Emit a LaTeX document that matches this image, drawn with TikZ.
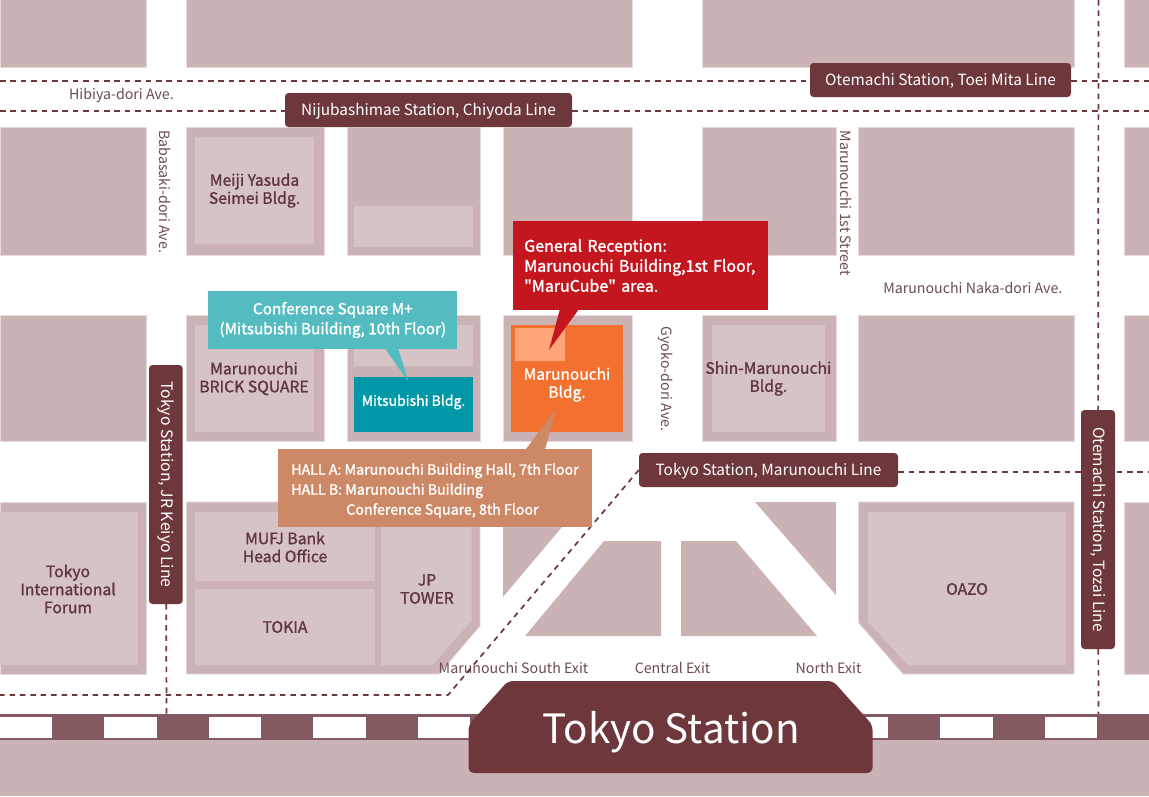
\documentclass[tikz,border=0pt]{standalone}
\usepackage{fontspec}
\setmainfont{Noto Sans CJK JP}
\newfontfamily\medfont[FakeBold=1.2]{Noto Sans CJK JP}
\newfontfamily\semifont[FakeBold=1.6]{Noto Sans CJK JP}
\usetikzlibrary{backgrounds}

\definecolor{blockcol}{HTML}{CBB2B4}
\definecolor{innercol}{HTML}{D5C3C6}
\definecolor{edgecol}{HTML}{E6DADB}
\definecolor{darkcol}{HTML}{6D373C}
\definecolor{railcol}{HTML}{84595F}
\definecolor{roadtext}{HTML}{6E4B50}
\definecolor{bldgtext}{HTML}{5F363C}
\definecolor{tealcol}{HTML}{0097A7}
\definecolor{confcol}{HTML}{54BBC1}
\definecolor{redcol}{HTML}{C4161F}
\definecolor{hallcol}{HTML}{CD8966}
\definecolor{orangecol}{HTML}{F27130}
\definecolor{peachcol}{HTML}{FFA578}

\tikzset{
    block/.style={fill=blockcol, draw=edgecol, line width=0.7pt},
    inner/.style={fill=innercol},
    subway/.style={draw=darkcol, line width=1.7pt, dash pattern=on 5.5pt off 4.9pt},
    road/.style={text=roadtext, inner sep=0pt, font=\fontsize{14.2}{17}\selectfont},
    bldg/.style={text=bldgtext, inner sep=0pt, align=center, font=\fontsize{15.7}{18}\medfont},
    bldgwhite/.style={text=white, inner sep=0pt, align=center, font=\fontsize{15.5}{18}\medfont},
    stationtag/.style={fill=darkcol, text=white, rounded corners=3.5pt, inner sep=0pt, font=\fontsize{15.4}{18}\selectfont},
    flattag/.style={stationtag, minimum height=34pt, text height=12.5pt, text depth=2.5pt},
    callout/.style={inner sep=0pt, text=white, font=\fontsize{15.3}{20}\semifont}
}

\begin{document}
\begin{tikzpicture}[x=1pt, y=-1pt]

    \useasboundingbox (0,0) rectangle (1149,796);

    % City blocks, row by row
    \foreach \xa/\xb in {0/146.7, 186.3/632, 702/1074, 1124/1149}
        \draw[block] (\xa,-2) rectangle (\xb,67);
    \foreach \xa/\xb in {0/146.7, 186.3/324, 347/480, 503/632, 702/836, 858.5/1074, 1124/1149} {
        \draw[block] (\xa,127) rectangle (\xb,255.5);
        \draw[block] (\xa,315.5) rectangle (\xb,441);
    }
    \draw[block] (0,502) rectangle (146.7,674);
    \draw[block] (1124,502) rectangle (1149,674);
    \draw[block] (186.3,502) -- (480,502) -- (480,626) -- (439,674) -- (186.3,674) -- cycle;
    \fill[blockcol] (503,502) -- (583,502) -- (503,597) -- cycle;
    \fill[blockcol] (604,541) -- (661,541) -- (661,636) -- (525,636) -- cycle;
    \fill[blockcol] (681,541) -- (736,541) -- (817,636) -- (681,636) -- cycle;
    \fill[blockcol] (755,502) -- (836,502) -- (836,595) -- cycle;
    \draw[block] (858.5,502) -- (1074,502) -- (1074,674) -- (903,674) -- (858.5,622.7) -- cycle;

    % Buildings
    \fill[inner] (195,137) rectangle (313.5,243.7);
    \fill[inner] (354,206) rectangle (473,246.7);
    \fill[inner] (195,325) rectangle (313.5,432);
    \fill[inner] (354,325) rectangle (473,365.7);
    \fill[inner] (712,325) rectangle (825,432);
    \fill[tealcol] (354,377) rectangle (473,432);
    \fill[orangecol] (511,325) rectangle (623.4,432);
    \fill[peachcol] (514.5,328) rectangle (565,360.7);
    \fill[inner] (0,512) rectangle (138,665);
    \fill[inner] (195,512) rectangle (375,581);
    \fill[inner] (195,589) rectangle (375,665);
    \fill[inner] (381,512) -- (471.6,512) -- (471.6,620.7) -- (432.7,665) -- (381,665) -- cycle;
    \fill[inner] (868,512) -- (1066,512) -- (1066,665) -- (907.6,665) -- (868,621.7) -- cycle;

    % Railway
    \fill[blockcol] (0,740) rectangle (1149,796);
    \fill[railcol] (0,714) rectangle (1149,740);
    \foreach \i in {0,...,10}
        \fill[white] ({104.5*\i-0.5},717) rectangle ({104.5*\i+52},738);

    % Building names
    \node[bldg] (meiji) at (254.5,190.5) {Meiji Yasuda\\Seimei Bldg.};
    \node[bldg] (brick) at (254,378.5) {Marunouchi\\BRICK SQUARE};
    \node[bldg] (shin) at (768.4,378.5) {Shin-Marunouchi\\Bldg.};
    \node[bldg] (forum) at (68,589) {Tokyo\\International\\Forum};
    \node[bldg] (mufj) at (285,547) {MUFJ Bank\\Head Office};
    \node[bldg] (tokia) at (285,627) {TOKIA};
    \node[bldg] (jptower) at (427,589) {JP\\TOWER};
    \node[bldg] (oazo) at (967,589) {OAZO};
    \node[bldgwhite, font=\fontsize{14}{18}\medfont] (mitsubishi) at (413.5,402) {Mitsubishi Bldg.};
    \node[bldgwhite] (marubldg) at (567,384.5) {Marunouchi\\Bldg.};

    % Road names
    \node[road] (hibiya) at (121.4,96) {Hibiya-dori Ave.};
    \node[road, rotate=-90] (babasaki) at (164.6,191.7) {Babasaki-dori Ave.};
    \node[road, rotate=-90] (first) at (846.4,203) {Marunouchi 1st Street};
    \node[road] (naka) at (972.8,287.7) {Marunouchi Naka-dori Ave.};
    \node[road, rotate=-90] (gyoko) at (665.5,379) {Gyoko-dori Ave.};
    \node[road] (southexit) at (513.5,668) {Marunouchi South Exit};
    \node[road] (centralexit) at (672.5,668) {Central Exit};
    \node[road] (northexit) at (828.5,668) {North Exit};

    % Callouts
    \fill[confcol] (382.5,345) -- (397,345) -- (408.5,381.7) -- cycle;
    \node[callout, fill=confcol, minimum width=249pt, minimum height=58pt, align=center] (conference) at (332.8,320) {Conference Square M+\\(Mitsubishi Building, 10th Floor)};
    \fill[redcol] (561,305) -- (582,305) -- (549,350) -- cycle;
    \node[callout, fill=redcol, minimum width=255pt, minimum height=89pt, text width=232.5pt, align=left, font=\fontsize{16}{20}\semifont] (reception) at (640.5,265.5) {General Reception:\\Marunouchi Building,1st Floor,\\"MaruCube" area.};
    \fill[hallcol] (523,453) -- (544,453) -- (556,409) -- cycle;
    \node[callout, fill=hallcol, minimum width=314pt, minimum height=77.7pt, align=left, font=\fontsize{14.2}{20}\semifont] (hall) at (435,487.8) {\rule{0pt}{17pt}HALL A: Marunouchi Building Hall, 7th Floor\\HALL B: Marunouchi Building\\\hspace*{55pt}Conference Square, 8th Floor};

    % Stations
    \node[flattag, minimum width=287pt] (nijubashi) at (428.5,110) {Nijubashimae Station, Chiyoda Line};
    \node[flattag, minimum width=261pt] (otemachi) at (940.5,80) {Otemachi Station, Toei Mita Line};
    \node[flattag, minimum width=259pt] (marunouchi) at (768.5,470) {Tokyo Station, Marunouchi Line};
    \node[stationtag, rotate=-90, minimum width=239pt, minimum height=33.6pt, font=\fontsize{15.8}{18}\selectfont] (keiyo) at (165.8,484.5) {Tokyo Station, JR Keiyo Line};
    \node[stationtag, rotate=-90, minimum width=239pt, minimum height=34pt, font=\fontsize{15.5}{18}\selectfont] (tozai) at (1098,529.5) {Otemachi Station, Tozai Line};
    \draw[fill=darkcol, draw=none, rounded corners=5pt] (468.6,773) -- (468.6,725) -- (508,681) -- (833,681) -- (872.5,725) -- (872.5,773) -- cycle;
    \node[text=white, inner sep=0pt, font=\fontsize{40.4}{44}\selectfont] (tokyo) at (671,732.5) {Tokyo Station};

    % Ends of the subway lines
    \coordinate (miteW) at (0,81);
    \coordinate (miteE) at (1149,81);
    \coordinate (chiyodaW) at (0,111);
    \coordinate (chiyodaE) at (1149,111);
    \coordinate (tozaiN) at (1098.5,0);
    \coordinate (tozaiS) at (1098.5,714);
    \coordinate (keiyoS) at (166.5,714);
    \coordinate (maruE) at (1149,471.7);
    \coordinate (maruBend) at (448,695);
    \coordinate (maruW) at (0,695);

    \begin{scope}[on background layer]
        \fill[white] (0,0) rectangle (1149,796);
        \draw[subway] (miteW) -- (otemachi.west |- miteW);
        \draw[subway] (otemachi.east |- miteE) -- (miteE);
        \draw[subway] (chiyodaW) -- (nijubashi.west |- chiyodaW);
        \draw[subway] (nijubashi.east |- chiyodaE) -- (chiyodaE);
        \draw[subway] (tozaiN) -- (tozai);
        \draw[subway] (tozai) -- (tozaiS);
        \draw[subway] (keiyo) -- (keiyoS);
        \draw[subway] (marunouchi.east |- maruE) -- (maruE);
        \draw[subway] (marunouchi.west) -- (maruBend) -- (maruW);
    \end{scope}

\end{tikzpicture}
\end{document}
